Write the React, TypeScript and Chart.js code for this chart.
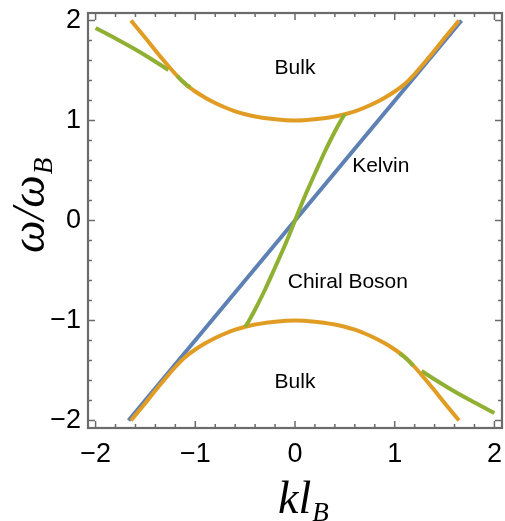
import React, { useEffect, useRef } from 'react';
import { Chart, registerables } from 'chart.js';

Chart.register(...registerables);

// ---- data ----
const bulkK = [-1.645, -1.5, -1.4, -1.3, -1.2, -1.1, -1.0, -0.9, -0.8, -0.7, -0.6, -0.5, -0.4, -0.2, 0, 0.2, 0.4, 0.5, 0.6, 0.7, 0.8, 0.9, 1.0, 1.1, 1.2, 1.3, 1.4, 1.5, 1.645];
const bulkUpperW = [2.0, 1.825, 1.7, 1.58, 1.465, 1.365, 1.29, 1.228, 1.175, 1.13, 1.092, 1.062, 1.04, 1.012, 1.0, 1.012, 1.04, 1.062, 1.092, 1.13, 1.175, 1.228, 1.29, 1.365, 1.465, 1.58, 1.7, 1.825, 2.0];
const bulkLowerW = [-2.0, -1.825, -1.7, -1.58, -1.465, -1.365, -1.29, -1.228, -1.175, -1.13, -1.092, -1.062, -1.04, -1.012, -1.0, -1.012, -1.04, -1.062, -1.092, -1.13, -1.175, -1.228, -1.29, -1.365, -1.465, -1.58, -1.7, -1.825, -2.0];

const kelvinK = [-1.67, 1.67];
const kelvinW = [-2.0, 2.0];

const chiralK = [-0.5, -0.46, -0.4, -0.3, -0.2, -0.1, 0, 0.1, 0.2, 0.3, 0.4, 0.46, 0.5];
const chiralW = [-1.065, -1.0, -0.89, -0.69, -0.47, -0.245, 0, 0.245, 0.47, 0.69, 0.89, 1.0, 1.065];

const edgeLeftK = [-2.0, -1.8, -1.6, -1.45, -1.27];
const edgeLeftW = [1.925, 1.82, 1.71, 1.62, 1.505];
const edgeRightK = [1.27, 1.45, 1.6, 1.8, 2.0];
const edgeRightW = [-1.505, -1.62, -1.71, -1.82, -1.925];

const mergeLeftK = [-1.18, -1.115, -1.05];
const mergeLeftW = [1.445, 1.38, 1.33];
const mergeRightK = [1.05, 1.115, 1.187];
const mergeRightW = [-1.33, -1.38, -1.45];

const majorTickValues = [-2, -1, 0, 1, 2];
const majorTickLabels = ['\u22122', '\u22121', '0', '1', '2'];

const regionLabels = ['Bulk', 'Kelvin', 'Chiral Boson', 'Bulk'];
const regionLabelK = [0, 0.86, 0.53, 0];
const regionLabelW = [1.52, 0.545, -0.62, -1.615];

// ---- styles ----
const BLUE = '#5E81B5';
const ORANGE = '#E19C24';
const GREEN = '#8FB032';
const FRAME = '#6b6b6b';
const SANS = '"Liberation Sans", Arial, sans-serif';
const SERIF = '"Liberation Serif", "Times New Roman", serif';

const zip = (k: number[], w: number[]) => k.map((x, i) => ({ x, y: w[i] }));
const majorIndex = (v: number) => majorTickValues.findIndex((m) => Math.abs(m - v) < 1e-6);

const line = (label: string, k: number[], w: number[], color: string) => ({
  label,
  data: zip(k, w),
  borderColor: color,
  backgroundColor: color,
  borderWidth: 4,
  pointRadius: 0,
  fill: false,
  tension: 0.35,
  borderCapStyle: 'butt' as const,
});

const framePlugin = {
  id: 'frameTicks',
  afterDraw(chart: any) {
    const { ctx, chartArea: a, scales } = chart;
    const xs = scales.x;
    const ys = scales.y;
    ctx.save();
    ctx.strokeStyle = FRAME;
    ctx.lineWidth = 1.5;
    ctx.beginPath();
    xs.ticks.forEach((t: any) => {
      const p = xs.getPixelForValue(t.value);
      const L = majorIndex(t.value) >= 0 ? 7 : 4;
      ctx.moveTo(p, a.bottom);
      ctx.lineTo(p, a.bottom - L);
      ctx.moveTo(p, a.top);
      ctx.lineTo(p, a.top + L);
    });
    ys.ticks.forEach((t: any) => {
      const p = ys.getPixelForValue(t.value);
      const L = majorIndex(t.value) >= 0 ? 7 : 4;
      ctx.moveTo(a.left, p);
      ctx.lineTo(a.left + L, p);
      ctx.moveTo(a.right, p);
      ctx.lineTo(a.right - L, p);
    });
    ctx.stroke();
    ctx.lineWidth = 2.2;
    ctx.strokeRect(a.left, a.top, a.right - a.left, a.bottom - a.top);

    // axis titles
    ctx.fillStyle = '#000';
    ctx.textBaseline = 'alphabetic';
    ctx.textAlign = 'left';
    const cx = (a.left + a.right) / 2;
    ctx.font = `italic 46px ${SERIF}`;
    const kl = 'kl';
    const xStart = cx - 17;
    const xBase = a.bottom + 85;
    ctx.fillText(kl, xStart, xBase);
    const klw = ctx.measureText(kl).width;
    ctx.font = `italic 27px ${SERIF}`;
    ctx.fillText('B', xStart + klw + 1, xBase + 8);

    ctx.save();
    ctx.translate(44, 253);
    ctx.rotate(-Math.PI / 2);
    ctx.font = `italic 46px ${SERIF}`;
    const om = '\u03C9/\u03C9';
    ctx.fillText(om, 0, 0);
    const omw = ctx.measureText(om).width;
    ctx.font = `italic 27px ${SERIF}`;
    ctx.fillText('B', omw + 1, 8);
    ctx.restore();

    ctx.restore();
  },
  afterDatasetsDraw(chart: any) {
    const { ctx, scales } = chart;
    ctx.save();
    ctx.fillStyle = '#000';
    ctx.font = `21px ${SANS}`;
    ctx.textAlign = 'center';
    ctx.textBaseline = 'middle';
    regionLabels.forEach((txt, i) => {
      ctx.fillText(txt, scales.x.getPixelForValue(regionLabelK[i]), scales.y.getPixelForValue(regionLabelW[i]));
    });
    ctx.restore();
  },
};

export default function App() {
  const ref = useRef<HTMLCanvasElement | null>(null);

  useEffect(() => {
    if (!ref.current) return;
    const tickCb = (v: any) => {
      const i = majorIndex(Number(v));
      return i >= 0 ? majorTickLabels[i] : '';
    };
    const chart = new Chart(ref.current, {
      type: 'line',
      data: {
        datasets: [
          line('merge left', mergeLeftK, mergeLeftW, GREEN),
          line('merge right', mergeRightK, mergeRightW, GREEN),
          line('Chiral Boson', chiralK, chiralW, GREEN),
          line('Bulk upper', bulkK, bulkUpperW, ORANGE),
          line('Bulk lower', bulkK, bulkLowerW, ORANGE),
          line('edge left', edgeLeftK, edgeLeftW, GREEN),
          line('edge right', edgeRightK, edgeRightW, GREEN),
          line('Kelvin', kelvinK, kelvinW, BLUE),
        ] as any,
      },
      options: {
        animation: false,
        responsive: false,
        events: [],
        layout: { padding: { top: 13, right: 3, left: 0, bottom: 0 } },
        plugins: { legend: { display: false }, tooltip: { enabled: false }, title: { display: false } },
        scales: {
          x: {
            type: 'linear',
            position: 'bottom',
            min: -2.076,
            max: 2.076,
            grid: { display: false, drawTicks: false },
            border: { display: false },
            ticks: {
              stepSize: 0.2,
              includeBounds: false,
              autoSkip: false,
              maxRotation: 0,
              minRotation: 0,
              padding: 10,
              color: '#000',
              font: { family: SANS, size: 27 },
              callback: tickCb,
            },
            afterFit: (s: any) => {
              s.height = 93;
              s.paddingLeft = 0;
              s.paddingRight = 0;
              s.paddingTop = 0;
              s.paddingBottom = 0;
            },
          },
          y: {
            type: 'linear',
            position: 'left',
            min: -2.075,
            max: 2.075,
            grid: { display: false, drawTicks: false },
            border: { display: false },
            ticks: {
              stepSize: 0.2,
              includeBounds: false,
              autoSkip: false,
              padding: 7,
              color: '#000',
              font: { family: SANS, size: 27 },
              callback: tickCb,
            },
            afterFit: (s: any) => {
              s.width = 88;
              s.paddingLeft = 0;
              s.paddingRight = 0;
              s.paddingTop = 0;
              s.paddingBottom = 0;
            },
          },
        },
      } as any,
      plugins: [framePlugin],
    });
    return () => chart.destroy();
  }, []);

  return (
    <div style={{ position: 'absolute', left: 0, top: 0, width: 505, height: 521, background: '#fff' }}>
      <canvas ref={ref} width={505} height={521} style={{ display: 'block' }} />
    </div>
  );
}
